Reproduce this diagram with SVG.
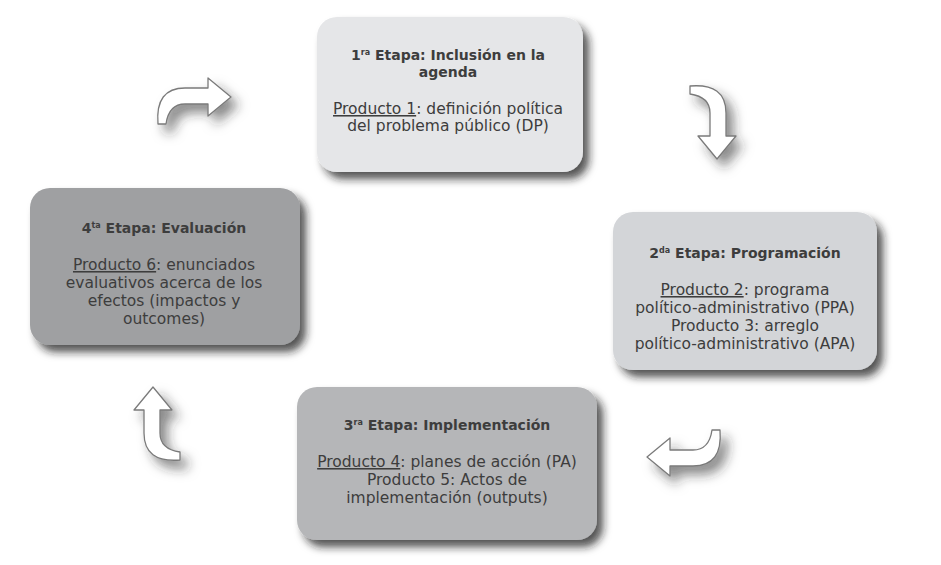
<svg xmlns="http://www.w3.org/2000/svg" width="941" height="565" viewBox="0 0 941 565">
<style>
  .box { stroke: none; }
  .t { font-family: "DejaVu Sans", "Liberation Sans", sans-serif; font-size: 15.5px; fill: #3d3d3d; text-anchor: middle; }
  .b { font-weight: bold; font-size: 14px; }
  .u { text-decoration: underline; }
  .arrow { fill: #ffffff; stroke: #7a7a7a; stroke-width: 1.3; stroke-linejoin: round; }
</style>
<defs>
  <filter id="boxShadow" x="-10%" y="-10%" width="130%" height="140%">
    <feDropShadow dx="6" dy="7" stdDeviation="4" flood-color="#1a1a1a" flood-opacity="0.75"/>
  </filter>
  <filter id="arrowShadow" x="-40%" y="-40%" width="200%" height="200%">
    <feDropShadow dx="7" dy="8" stdDeviation="6" flood-color="#2a2a2a" flood-opacity="0.55"/>
  </filter>
  <path id="curvedArrow" d="M -36 23 C -38 -1 -29 -13 -9 -13 L 14 -13 L 14 -23 L 37 -4 L 14 15 L 14 3 L -9 3 C -19 3 -26 9 -28 23 Z"/>
</defs>
<rect width="941" height="565" fill="#ffffff"/>

<g id="connectors">
  <g filter="url(#arrowShadow)"><use href="#curvedArrow" class="arrow" transform="translate(194 101)"/></g>
  <g filter="url(#arrowShadow)"><use href="#curvedArrow" class="arrow" transform="translate(713 122) rotate(90)"/></g>
  <g filter="url(#arrowShadow)"><use href="#curvedArrow" class="arrow" transform="translate(684 453) rotate(180)"/></g>
  <g filter="url(#arrowShadow)"><use href="#curvedArrow" class="arrow" transform="translate(157 424) rotate(-90)"/></g>
</g>

<g id="etapa1">
  <rect class="box" x="317" y="17" width="266" height="155" rx="20" fill="#e5e6e8" filter="url(#boxShadow)"/>
  <text class="t b" x="448" y="60">1<tspan font-size="8" dy="-5">ra</tspan><tspan dy="5"> Etapa: Inclusión en la</tspan></text>
  <text class="t b" x="448" y="77">agenda</text>
  <text class="t" x="448" y="114"><tspan class="u">Producto 1</tspan>: definición política</text>
  <text class="t" x="448" y="131">del problema público (DP)</text>
</g>

<g id="etapa2">
  <rect class="box" x="613" y="212" width="264" height="158" rx="20" fill="#d3d5d8" filter="url(#boxShadow)"/>
  <text class="t b" x="745" y="258">2<tspan font-size="8" dy="-5">da</tspan><tspan dy="5"> Etapa: Programación</tspan></text>
  <text class="t" x="745" y="295"><tspan class="u">Producto 2</tspan>: programa</text>
  <text class="t" x="745" y="313">político-administrativo (PPA)</text>
  <text class="t" x="745" y="331">Producto 3: arreglo</text>
  <text class="t" x="745" y="349">político-administrativo (APA)</text>
</g>

<g id="etapa3">
  <rect class="box" x="297" y="387" width="300" height="153" rx="20" fill="#b5b6b8" filter="url(#boxShadow)"/>
  <text class="t b" x="447" y="430">3<tspan font-size="8" dy="-5">ra</tspan><tspan dy="5"> Etapa: Implementación</tspan></text>
  <text class="t" x="447" y="467"><tspan class="u">Producto 4</tspan>: planes de acción (PA)</text>
  <text class="t" x="447" y="485">Producto 5: Actos de</text>
  <text class="t" x="447" y="503">implementación (outputs)</text>
</g>

<g id="etapa4">
  <rect class="box" x="30" y="188" width="270" height="157" rx="20" fill="#9fa0a2" filter="url(#boxShadow)"/>
  <text class="t b" x="164" y="233">4<tspan font-size="8" dy="-5">ta</tspan><tspan dy="5"> Etapa: Evaluación</tspan></text>
  <text class="t" x="164" y="270"><tspan class="u">Producto 6</tspan>: enunciados</text>
  <text class="t" x="164" y="288">evaluativos acerca de los</text>
  <text class="t" x="164" y="306">efectos (impactos y</text>
  <text class="t" x="164" y="324">outcomes)</text>
</g>
</svg>
